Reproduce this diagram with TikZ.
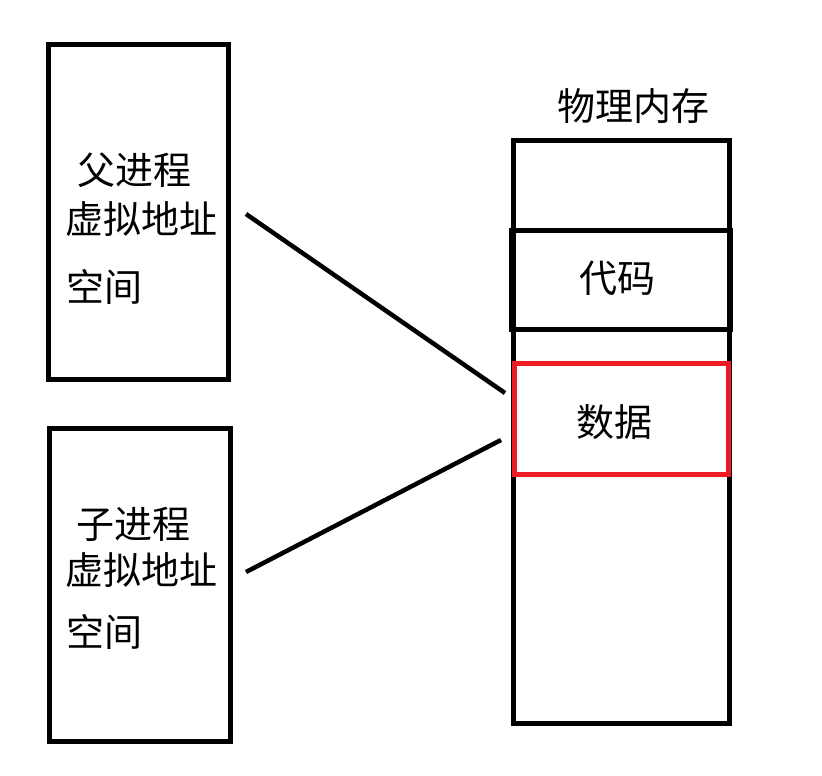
\documentclass[tikz,border=0pt]{standalone}
\usepackage{fontspec}
\setmainfont{Noto Sans CJK SC}
\definecolor{paintred}{HTML}{ED1C24}
\begin{document}
\begin{tikzpicture}[x=1pt,y=-1pt,
  box/.style={draw=black,line width=5pt,inner sep=0pt,outer sep=0pt},
  lbl/.style={anchor=base west,inner sep=0pt,font=\fontsize{38pt}{40pt}\selectfont},
  clbl/.style={anchor=base,inner sep=0pt,font=\fontsize{38pt}{40pt}\selectfont},
  conn/.style={draw=black,line width=4.5pt}]
\useasboundingbox (0,0) rectangle (822,776);
% left boxes
\node[box,minimum width=180pt,minimum height=334pt] (parent) at (138,212) {};
\node[box,minimum width=181pt,minimum height=313pt] (child) at (139.5,584.5) {};
\node[lbl] (p1) at (77,184) {父进程};
\node[lbl] (p2) at (65,233) {虚拟地址};
\node[lbl] (p3) at (66,301) {空间};
\node[lbl] (c1) at (76,538) {子进程};
\node[lbl] (c2) at (65,584) {虚拟地址};
\node[lbl] (c3) at (66,646) {空间};
% physical memory
\node[box,minimum width=216pt,minimum height=583.5pt] (mem) at (621.5,431.75) {};
\node[box,line width=5.5pt,minimum width=219pt,minimum height=99pt] (code) at (621,280) {};
\node[box,draw=paintred,line width=5.5pt,minimum width=214pt,minimum height=111pt] (data) at (621.5,419) {};
\node[clbl] (title) at (633.5,121) {物理内存};
\node[clbl] (codet) at (617.5,292) {代码};
\node[clbl] (datat) at (614.5,436) {数据};
% connectors
\coordinate (pa) at (246,214);
\coordinate (pb) at (505,393);
\coordinate (ca) at (246,572);
\coordinate (cb) at (501,440);
\draw[conn] (pa) -- (pb);
\draw[conn] (ca) -- (cb);
\end{tikzpicture}
\end{document}
